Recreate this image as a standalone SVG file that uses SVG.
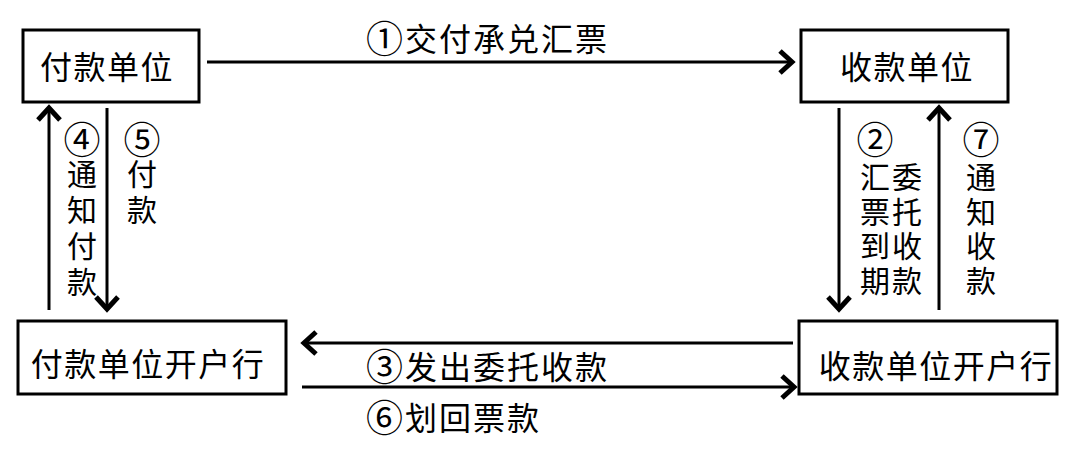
<svg xmlns="http://www.w3.org/2000/svg" width="1089" height="449" viewBox="0 0 1089 449">
<style>
.box{fill:#fff;stroke:#000;stroke-width:3}
.t{font-family:"Noto Sans CJK SC","Noto Sans CJK TC",sans-serif;font-size:32px;fill:#000;text-anchor:middle;dominant-baseline:central;letter-spacing:1.5px}
.h{font-family:"Noto Sans CJK SC","Noto Sans CJK TC",sans-serif;font-size:32px;fill:#000;text-anchor:start;dominant-baseline:central;letter-spacing:2px}
.c{font-size:37px}
.cd{font-family:"Noto Sans CJK SC","Noto Sans CJK TC",sans-serif;font-size:37px;fill:#000;text-anchor:middle;dominant-baseline:central}
.v{font-family:"Noto Sans CJK SC","Noto Sans CJK TC",sans-serif;font-size:30px;fill:#000;text-anchor:start;dominant-baseline:central;writing-mode:vertical-rl}
.ln{stroke:#000;stroke-width:3;fill:none}
</style>
<defs>
<marker id="ah" markerUnits="userSpaceOnUse" markerWidth="30" markerHeight="30" viewBox="-20 -15 25 30" refX="0" refY="0" orient="auto">
<path d="M-13,-11 L-1,0 L-13,11" fill="none" stroke="#000" stroke-width="5"/>
</marker>
</defs>
<rect width="1089" height="449" fill="#fff"/>
<g id="n1"><rect class="box" x="23" y="30" width="176" height="72"/><text class="t" x="107" y="65">付款单位</text></g>
<g id="n2"><rect class="box" x="801" y="30" width="207" height="72"/><text class="t" x="907" y="65">收款单位</text></g>
<g id="n3"><rect class="box" x="18" y="321" width="268" height="73"/><text class="t" x="148" y="362">付款单位开户行</text></g>
<g id="n4"><rect class="box" x="799" y="321" width="258" height="73"/><text class="t" x="936" y="364">收款单位开户行</text></g>
<g id="connectors">
<line class="ln" x1="207" y1="62" x2="793" y2="62" marker-end="url(#ah)"/>
<line class="ln" x1="49" y1="310" x2="49" y2="107" marker-end="url(#ah)"/>
<line class="ln" x1="107" y1="108" x2="107" y2="310" marker-end="url(#ah)"/>
<line class="ln" x1="839" y1="108" x2="839" y2="310" marker-end="url(#ah)"/>
<line class="ln" x1="939" y1="310" x2="939" y2="107" marker-end="url(#ah)"/>
<line class="ln" x1="793" y1="343" x2="303" y2="343" marker-end="url(#ah)"/>
<line class="ln" x1="302" y1="387" x2="795" y2="387" marker-end="url(#ah)"/>
</g>
<g id="labels">
<text class="h" x="366" y="37"><tspan class="c">①</tspan>交付承兑汇票</text>
<text class="h" x="366" y="365"><tspan class="c">③</tspan>发出委托收款</text>
<text class="h" x="366" y="416"><tspan class="c">⑥</tspan>划回票款</text>
<text class="cd" x="82" y="138">④</text>
<text class="v" x="82" y="159" style="letter-spacing:6px">通知付款</text>
<text class="cd" x="142" y="138">⑤</text>
<text class="v" x="142" y="159" style="letter-spacing:6px">付款</text>
<text class="cd" x="875" y="138">②</text>
<text class="v" x="875" y="162" style="letter-spacing:4.5px">汇票到期</text>
<text class="v" x="907" y="162" style="letter-spacing:4.5px">委托收款</text>
<text class="cd" x="981" y="138">⑦</text>
<text class="v" x="981" y="162" style="letter-spacing:4.5px">通知收款</text>
</g>
</svg>
